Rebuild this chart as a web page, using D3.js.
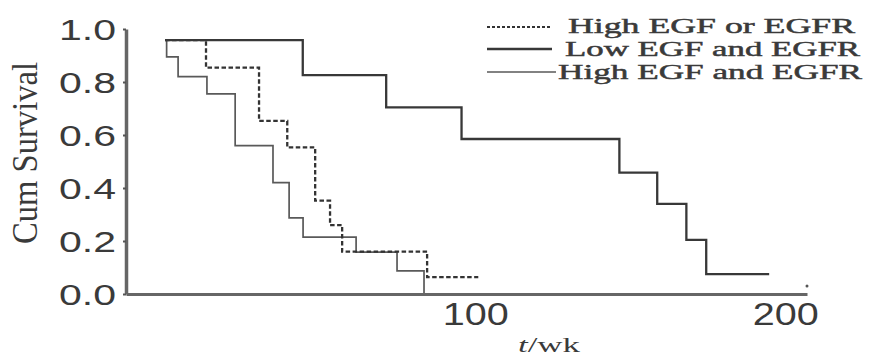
<!DOCTYPE html>
<html>
<head>
<meta charset="utf-8">
<script src="https://cdn.jsdelivr.net/npm/d3@7/dist/d3.min.js"></script>
<style>
  html, body { margin: 0; padding: 0; background: #fff; }
  svg { display: block; }
</style>
</head>
<body>
<svg id="chart" width="877" height="359"></svg>
<script>
// ---- data ----
const seriesNames = ["High EGF or EGFR", "Low EGF and EGFR", "High EGF and EGFR"];

const orTimes  = [0, 13.2, 30.3, 39.4, 48.4, 53.2, 57.1, 84.5, 101];
const orSurv   = [0.958, 0.854, 0.653, 0.553, 0.352, 0.26, 0.16, 0.064, 0.064];

const lowTimes = [0, 44.4, 71.3, 95.6, 146.5, 158.7, 168.1, 174.5, 194.8];
const lowSurv  = [0.958, 0.826, 0.704, 0.585, 0.458, 0.340, 0.204, 0.075, 0.075];

const highTimes = [0, 0.5, 4.2, 13.5, 22.6, 34.8, 40, 44.5, 61.6, 74.8, 83.5];
const highSurv  = [0.958, 0.895, 0.820, 0.755, 0.560, 0.420, 0.287, 0.215, 0.158, 0.087, 0];

const yTicks = [0, 0.2, 0.4, 0.6, 0.8, 1.0];
const xTicks = [100, 200];

// ---- drawing ----
const svg = d3.select("#chart");

const x = d3.scaleLinear().domain([-12.6, 207]).range([126, 807]);
const y = d3.scaleLinear().domain([0, 1]).range([294, 29]);

const zip = (t, s) => t.map((d, i) => [d, s[i]]);
const line = d3.line().x(d => x(d[0])).y(d => y(d[1])).curve(d3.curveStepAfter);

// curves
svg.append("path").datum(zip(highTimes, highSurv))
  .attr("d", line).attr("fill", "none")
  .attr("stroke", "#595959").attr("stroke-width", 1.7);

svg.append("path").datum(zip(orTimes, orSurv))
  .attr("d", line).attr("fill", "none")
  .attr("stroke", "#333").attr("stroke-width", 2.3)
  .attr("stroke-dasharray", "4.5,2.5");

svg.append("path").datum(zip(lowTimes, lowSurv))
  .attr("d", line).attr("fill", "none")
  .attr("stroke", "#383838").attr("stroke-width", 2.3);

// y axis
const yAxis = svg.append("g").attr("transform", "translate(126,0)")
  .call(d3.axisLeft(y).tickValues(yTicks).tickFormat(d3.format(".1f")).tickSize(3).tickSizeOuter(0).tickPadding(7));
yAxis.select(".domain").attr("stroke", "#666").attr("stroke-width", 3.5);
yAxis.selectAll(".tick line").attr("stroke", "#555").attr("stroke-width", 2);
yAxis.selectAll(".tick text")
  .attr("font-family", "'Liberation Sans', Arial, sans-serif")
  .attr("font-size", 29).attr("fill", "#3a3a3a")
  .attr("textLength", 57).attr("lengthAdjust", "spacingAndGlyphs")
  .attr("dy", "0.36em");

// x axis
const xAxis = svg.append("g").attr("transform", "translate(0,294)")
  .call(d3.axisBottom(x).tickValues(xTicks).tickFormat(d3.format("d")).tickSize(0).tickSizeOuter(0).tickPadding(8));
xAxis.select(".domain").attr("stroke", "#666").attr("stroke-width", 3);
xAxis.selectAll(".tick text")
  .attr("font-family", "'Liberation Sans', Arial, sans-serif")
  .attr("font-size", 32).attr("fill", "#3a3a3a")
  .attr("textLength", 66).attr("lengthAdjust", "spacingAndGlyphs")
  .attr("dy", "0.72em");
// small end mark at axis end
svg.append("circle").attr("cx", x(207)).attr("cy", 286).attr("r", 1.5).attr("fill", "#555");

// axis titles
svg.append("text")
  .attr("transform", "translate(37,153) scale(1.2,1) rotate(-90)")
  .attr("text-anchor", "middle")
  .attr("font-family", "'Liberation Serif', 'Times New Roman', serif")
  .attr("font-size", 29).attr("fill", "#3a3a3a")
  .attr("textLength", 182).attr("lengthAdjust", "spacingAndGlyphs")
  .text("Cum Survival");

const xt = svg.append("text")
  .attr("x", 518).attr("y", 352)
  .attr("font-family", "'Liberation Serif', 'Times New Roman', serif")
  .attr("font-size", 21).attr("fill", "#3a3a3a")
  .attr("textLength", 62).attr("lengthAdjust", "spacingAndGlyphs");
xt.append("tspan").attr("font-style", "italic").text("t");
xt.append("tspan").text("/wk");

// legend
const legStyles = [
  { stroke: "#333", width: 2.0, dash: "3,2", x1: 487, x2: 552, ly: 27, tx: 568, ty: 33, tl: 287 },
  { stroke: "#383838", width: 2.3, dash: null, x1: 487, x2: 552, ly: 49, tx: 565, ty: 56, tl: 295 },
  { stroke: "#595959", width: 1.7, dash: null, x1: 487, x2: 556, ly: 72, tx: 558, ty: 79, tl: 304 }
];
const leg = svg.append("g");
seriesNames.forEach((name, i) => {
  const s = legStyles[i];
  leg.append("line")
    .attr("x1", s.x1).attr("x2", s.x2).attr("y1", s.ly).attr("y2", s.ly)
    .attr("stroke", s.stroke).attr("stroke-width", s.width)
    .attr("stroke-dasharray", s.dash);
  leg.append("text")
    .attr("x", s.tx).attr("y", s.ty)
    .attr("font-family", "'Liberation Serif', 'Times New Roman', serif")
    .attr("font-size", 22).attr("fill", "#3a3a3a")
    .attr("stroke", "#3a3a3a").attr("stroke-width", 0.5)
    .attr("textLength", s.tl).attr("lengthAdjust", "spacingAndGlyphs")
    .text(name);
});
</script>
</body>
</html>
